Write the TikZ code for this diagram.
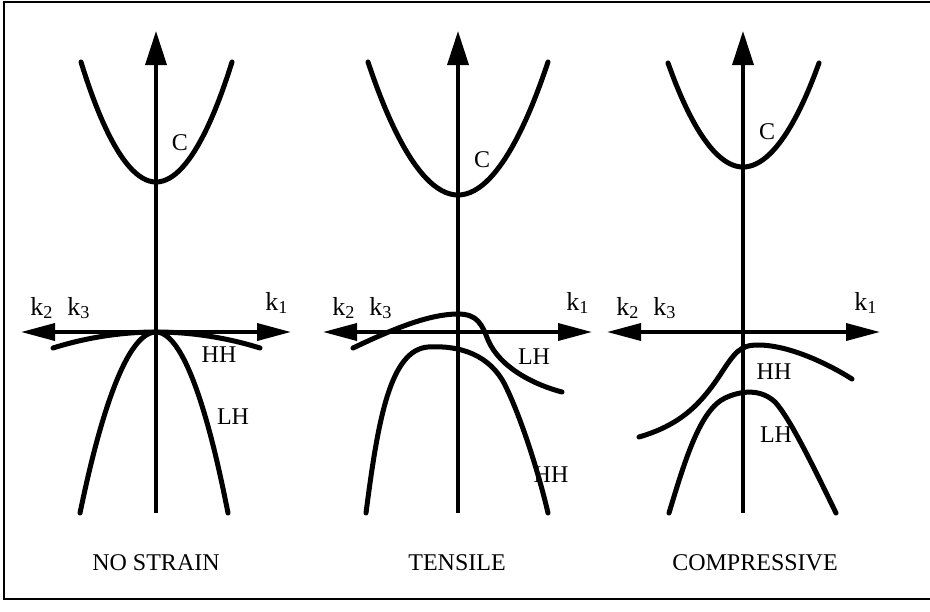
\documentclass[tikz,border=0pt]{standalone}
\usepackage{fontspec}
\setmainfont{Liberation Serif}
\usetikzlibrary{arrows.meta}

\begin{document}
\begin{tikzpicture}[x=0.5pt,y=-0.5pt,
    band/.style={line width=2.5pt,line cap=round},
    kaxis/.style={line width=1.8pt,-{Triangle[length=17pt,width=10.5pt]}},
    haxis/.style={line width=1.8pt,{Triangle[length=17pt,width=8.5pt]}-{Triangle[length=17pt,width=8.5pt]}},
    blabel/.style={font=\fontsize{12}{14}\selectfont,inner sep=0pt},
    klabel/.style={font=\fontsize{13}{15}\selectfont,inner sep=0pt},
    caption/.style={font=\fontsize{12}{14}\selectfont,inner sep=0pt}]
  \useasboundingbox (0,0) rectangle (930,611);

  % Frame (open on the right)
  \draw[line width=1pt] (930,2) -- (4,2) -- (4,599) -- (930,599);

  % Energy and k axes of the three panels
  \foreach \x/\l/\r/\n in {156/21/291/a, 458/323/592/b, 743/607/880/c}{
    \draw[kaxis] (\x,513) -- (\x,31);
    \draw[haxis] (\l,332) -- (\r,332);
    \node[klabel] (k2\n) at (\l+21,308) {k\textsubscript{2}};
    \node[klabel] (k3\n) at (\l+58,308) {k\textsubscript{3}};
    \node[klabel] (k1\n) at (\r-14,303) {k\textsubscript{1}};
  }

  % No strain
  \draw[band] (81,62) parabola bend (156,182) (232,62);
  \draw[band] (53,348) parabola bend (156,332) (260,348);
  \draw[band] (80,513) parabola bend (156,332) (228,513);
  \node[blabel] (ca) at (180,143) {C};
  \node[blabel] (hha) at (219,355) {HH};
  \node[blabel] (lha) at (233,417) {LH};

  % Tensile
  \draw[band] (368,62) parabola bend (458,195) (548,62);
  \draw[band] (353,348) .. controls (395,328) and (430,314) .. (458,314)
    .. controls (478,314) and (482,325) .. (488,340)
    .. controls (500,368) and (535,385) .. (562,392);
  \draw[band] (366,513) .. controls (378,420) and (390,350) .. (428,347)
    .. controls (460,345) and (490,355) .. (505,385)
    .. controls (520,415) and (538,470) .. (548,513);
  \node[blabel] (cb) at (482,160) {C};
  \node[blabel] (lhb) at (534,357) {LH};
  \node[blabel] (hhb) at (551,475) {HH};

  % Compressive
  \draw[band] (668,63) parabola bend (743,167) (819,63);
  \draw[band] (639,437) .. controls (680,425) and (700,405) .. (720,375)
    .. controls (735,352) and (740,345) .. (758,345)
    .. controls (790,345) and (830,365) .. (852,379);
  \draw[band] (669,513) .. controls (685,460) and (700,410) .. (725,398)
    .. controls (740,391) and (760,388) .. (775,402)
    .. controls (790,418) and (815,470) .. (836,513);
  \node[blabel] (cc) at (767,132) {C};
  \node[blabel] (hhc) at (774,372) {HH};
  \node[blabel] (lhc) at (776,435) {LH};

  % Panel captions
  \node[caption] (nostrain) at (156,563) {NO STRAIN};
  \node[caption] (tensile) at (457,563) {TENSILE};
  \node[caption] (compressive) at (755,563) {COMPRESSIVE};
\end{tikzpicture}
\end{document}
